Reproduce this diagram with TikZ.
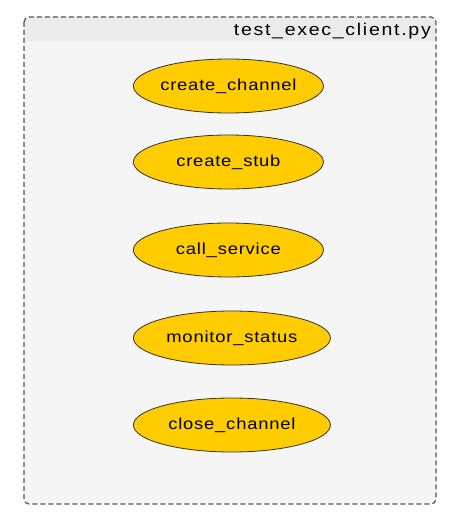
\documentclass[tikz,border=0pt]{standalone}
\usepackage{fontspec}
\setmainfont{Liberation Sans}
\usetikzlibrary{positioning, shapes.geometric}
\definecolor{funcfill}{HTML}{FFCC00}
\definecolor{bodyfill}{HTML}{F5F5F5}
\definecolor{headfill}{HTML}{EBEBEB}
\definecolor{framegray}{HTML}{555555}
\newcommand{\fname}[1]{\makebox[0pt]{#1}}

\begin{document}
\begin{tikzpicture}[
    x=1pt, y=-1pt,
    func/.style={ellipse, draw=black!80, line width=0.8pt, fill=funcfill, inner sep=0pt, minimum width=#1, minimum height=54pt, anchor=west, font=\fontsize{16}{19}\selectfont\addfontfeature{FakeStretch=1.15, LetterSpace=5}},
    func/.default=190pt,
    filebox/.style={draw=framegray, line width=1.2pt, dash pattern=on 5pt off 3pt, rounded corners=5pt},
]
\useasboundingbox (0,0) rectangle (458,521);
% file frame
\fill[bodyfill, rounded corners=5pt] (24,17) rectangle (436,504);
\fill[headfill, rounded corners=5pt] (24,17) rectangle (436,41);
\fill[headfill] (24,30) rectangle (436,41);
\draw[filebox] (24,17) rectangle (436,504);
\node[anchor=base east, inner sep=0pt, font=\fontsize{17}{20}\selectfont\addfontfeature{FakeStretch=1.15, LetterSpace=10}] (title) at (431,36) {test\_exec\_client.py};
% functions
\node[func] (c1) at (133,86) {\fname{create\_channel}};
\node[func] (c2) at (133,162) {\fname{create\_stub}};
\node[func] (c3) at (133,250) {\fname{call\_service}};
\node[func=197pt] (c4) at (133,338) {\fname{monitor\_status}};
\node[func=197pt] (c5) at (133,425) {\fname{close\_channel}};
\end{tikzpicture}
\end{document}
